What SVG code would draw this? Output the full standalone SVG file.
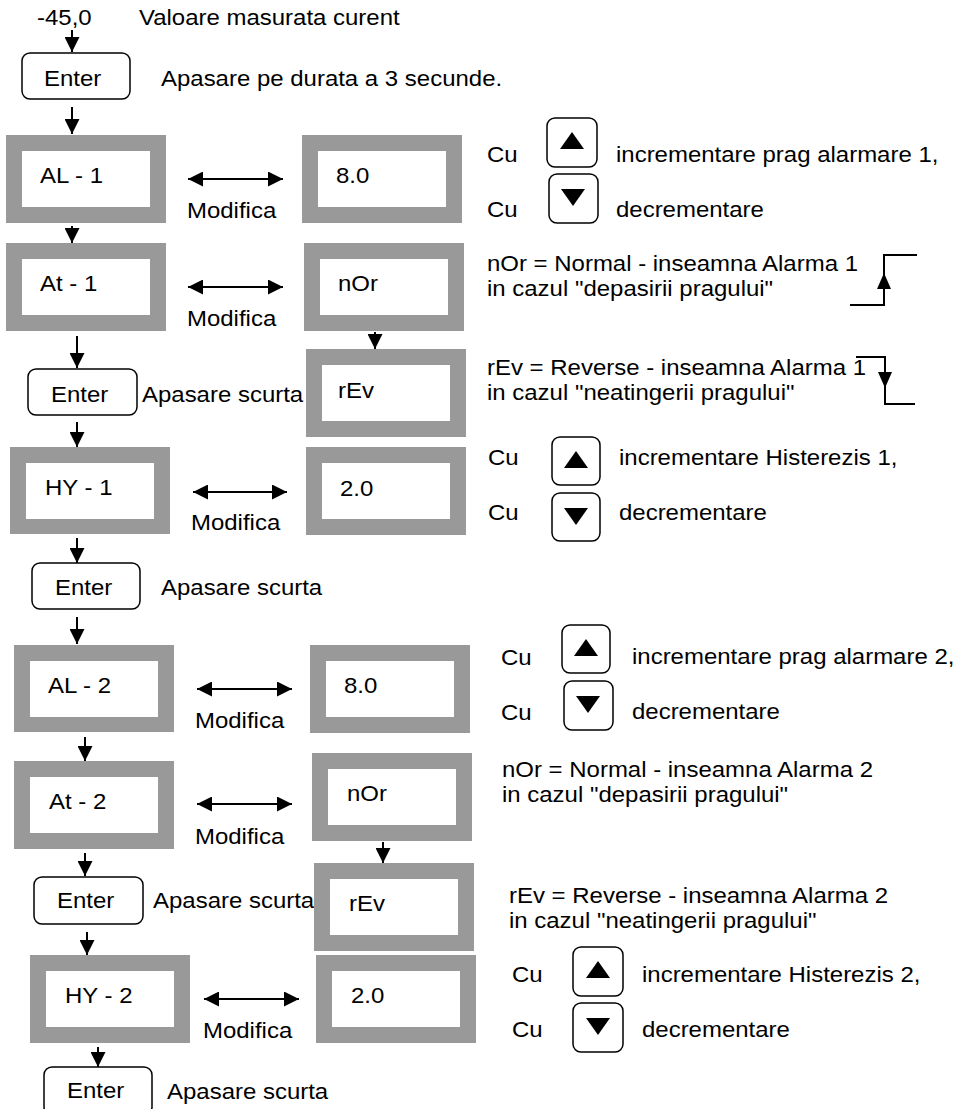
<svg xmlns="http://www.w3.org/2000/svg" width="965" height="1109" viewBox="0 0 965 1109">
<defs>
<style>
text { font-family: "Liberation Sans", Arial, sans-serif; font-size: 22px; fill: #000; transform: scaleX(1.09); transform-box: fill-box; transform-origin: 0 0; }
.disp { fill: #999999; }
.win { fill: #ffffff; }
.key { fill: #ffffff; stroke: #000; stroke-width: 1.5; }
.conn line { stroke: #000; stroke-width: 2; fill: none; }
.one { marker-end: url(#ah); }
.two { marker-start: url(#ah); marker-end: url(#ah); }
.sym { stroke: #000; stroke-width: 2; fill: none; }
.tri { fill: #000; }
</style>
<marker id="ah" markerUnits="userSpaceOnUse" markerWidth="15" markerHeight="15" refX="15" refY="7.5" orient="auto-start-reverse" viewBox="0 0 15 15"><path d="M0,0 L15,7.5 L0,15 z" fill="#000"/></marker>
</defs>
<rect width="965" height="1109" fill="#ffffff"/>

<g id="start">
<text x="37" y="25">-45,0</text>
<text x="139" y="25">Valoare masurata curent</text>
</g>

<g id="enter-1">
<rect class="key" x="22" y="53" width="108" height="46" rx="8"/>
<text x="44" y="86">Enter</text>
<text x="161" y="86">Apasare pe durata a 3 secunde.</text>
</g>

<g id="al1">
<rect class="disp" x="6" y="135" width="160" height="88"/>
<rect class="win" x="22" y="151" width="128" height="56"/>
<text x="40" y="183">AL - 1</text>
<text x="187" y="218">Modifica</text>
</g>
<g id="al1-val">
<rect class="disp" x="302" y="135" width="160" height="88"/>
<rect class="win" x="318" y="151" width="128" height="56"/>
<text x="336" y="183">8.0</text>
</g>
<g id="al1-keys">
<text x="487" y="162">Cu</text>
<rect class="key" x="547" y="118" width="50" height="49" rx="8"/>
<polygon class="tri" points="572,132 584,149 560,149"/>
<text x="616" y="162">incrementare prag alarmare 1,</text>
<text x="487" y="217">Cu</text>
<rect class="key" x="549" y="174" width="49" height="49" rx="8"/>
<polygon class="tri" points="561,189 585,189 573,206"/>
<text x="616" y="217">decrementare</text>
</g>

<g id="at1">
<rect class="disp" x="6" y="243" width="160" height="88"/>
<rect class="win" x="22" y="259" width="128" height="56"/>
<text x="40" y="291">At - 1</text>
<text x="187" y="326">Modifica</text>
</g>
<g id="at1-nor">
<rect class="disp" x="304" y="243" width="160" height="88"/>
<rect class="win" x="320" y="259" width="128" height="56"/>
<text x="338" y="291">nOr</text>
</g>
<g id="at1-nor-note">
<text x="487" y="271">nOr = Normal - inseamna Alarma 1</text>
<text x="487" y="296">in cazul "depasirii pragului"</text>
<polyline class="sym" points="850,305 884,305 884,255 917,255"/>
<polygon class="tri" points="884,273 891,289 877,289"/>
</g>

<g id="enter-2">
<rect class="key" x="28" y="369" width="109" height="46" rx="8"/>
<text x="51" y="402">Enter</text>
<text x="142" y="402">Apasare scurta</text>
</g>
<g id="at1-rev">
<rect class="disp" x="306" y="349" width="160" height="88"/>
<rect class="win" x="322" y="365" width="128" height="56"/>
<text x="338" y="398">rEv</text>
</g>
<g id="at1-rev-note">
<text x="487" y="375">rEv = Reverse - inseamna Alarma 1</text>
<text x="487" y="400">in cazul "neatingerii pragului"</text>
<polyline class="sym" points="856,357 885,357 885,404 915,404"/>
<polygon class="tri" points="878,372 892,372 885,388"/>
</g>

<g id="hy1">
<rect class="disp" x="10" y="447" width="160" height="87"/>
<rect class="win" x="26" y="463" width="128" height="56"/>
<text x="45" y="495">HY - 1</text>
<text x="191" y="530">Modifica</text>
</g>
<g id="hy1-val">
<rect class="disp" x="306" y="447" width="160" height="88"/>
<rect class="win" x="322" y="463" width="128" height="56"/>
<text x="340" y="496">2.0</text>
</g>
<g id="hy1-keys">
<text x="488" y="465">Cu</text>
<rect class="key" x="552" y="437" width="48" height="48" rx="8"/>
<polygon class="tri" points="576,451 588,468 564,468"/>
<text x="619" y="465">incrementare Histerezis 1,</text>
<text x="488" y="520">Cu</text>
<rect class="key" x="552" y="493" width="48" height="48" rx="8"/>
<polygon class="tri" points="564,508 588,508 576,525"/>
<text x="619" y="520">decrementare</text>
</g>

<g id="enter-3">
<rect class="key" x="32" y="563" width="108" height="46" rx="8"/>
<text x="55" y="595">Enter</text>
<text x="161" y="595">Apasare scurta</text>
</g>

<g id="al2">
<rect class="disp" x="14" y="645" width="160" height="87"/>
<rect class="win" x="30" y="661" width="128" height="56"/>
<text x="48" y="693">AL - 2</text>
<text x="195" y="728">Modifica</text>
</g>
<g id="al2-val">
<rect class="disp" x="310" y="645" width="160" height="88"/>
<rect class="win" x="326" y="661" width="128" height="56"/>
<text x="344" y="693">8.0</text>
</g>
<g id="al2-keys">
<text x="501" y="665">Cu</text>
<rect class="key" x="562" y="625" width="48" height="48" rx="8"/>
<polygon class="tri" points="586,639 598,656 574,656"/>
<text x="632" y="664">incrementare prag alarmare 2,</text>
<text x="501" y="720">Cu</text>
<rect class="key" x="564" y="681" width="49" height="49" rx="8"/>
<polygon class="tri" points="576,696 600,696 588,713"/>
<text x="632" y="719">decrementare</text>
</g>

<g id="at2">
<rect class="disp" x="14" y="761" width="160" height="88"/>
<rect class="win" x="30" y="777" width="128" height="56"/>
<text x="49" y="809">At - 2</text>
<text x="195" y="844">Modifica</text>
</g>
<g id="at2-nor">
<rect class="disp" x="312" y="753" width="160" height="88"/>
<rect class="win" x="328" y="769" width="128" height="56"/>
<text x="347" y="801">nOr</text>
</g>
<g id="at2-nor-note">
<text x="502" y="777">nOr = Normal - inseamna Alarma 2</text>
<text x="502" y="802">in cazul "depasirii pragului"</text>
</g>

<g id="enter-4">
<rect class="key" x="34" y="877" width="109" height="47" rx="8"/>
<text x="57" y="908">Enter</text>
<text x="153" y="908">Apasare scurta</text>
</g>
<g id="at2-rev">
<rect class="disp" x="314" y="863" width="160" height="88"/>
<rect class="win" x="330" y="879" width="128" height="56"/>
<text x="349" y="911">rEv</text>
</g>
<g id="at2-rev-note">
<text x="509" y="903">rEv = Reverse - inseamna Alarma 2</text>
<text x="509" y="928">in cazul "neatingerii pragului"</text>
</g>

<g id="hy2">
<rect class="disp" x="30" y="955" width="160" height="88"/>
<rect class="win" x="46" y="971" width="128" height="56"/>
<text x="65" y="1003">HY - 2</text>
<text x="203" y="1038">Modifica</text>
</g>
<g id="hy2-val">
<rect class="disp" x="316" y="955" width="160" height="88"/>
<rect class="win" x="332" y="971" width="128" height="56"/>
<text x="351" y="1003">2.0</text>
</g>
<g id="hy2-keys">
<text x="512" y="982">Cu</text>
<rect class="key" x="573" y="947" width="50" height="49" rx="8"/>
<polygon class="tri" points="598,961 610,978 586,978"/>
<text x="642" y="982">incrementare Histerezis 2,</text>
<text x="512" y="1037">Cu</text>
<rect class="key" x="573" y="1003" width="50" height="49" rx="8"/>
<polygon class="tri" points="586,1018 610,1018 598,1035"/>
<text x="642" y="1037">decrementare</text>
</g>

<g id="enter-5">
<rect class="key" x="44" y="1067" width="108" height="48" rx="8"/>
<text x="67" y="1098">Enter</text>
<text x="167" y="1099">Apasare scurta</text>
</g>

<g id="connectors" class="conn">
<line class="one" x1="72" y1="30" x2="72" y2="52"/>
<line class="one" x1="72" y1="107" x2="72" y2="134"/>
<line class="two" x1="188" y1="179" x2="283" y2="179"/>
<line class="one" x1="72" y1="226" x2="72" y2="243"/>
<line class="two" x1="188" y1="287" x2="283" y2="287"/>
<line class="one" x1="375" y1="332" x2="375" y2="349"/>
<line class="one" x1="77" y1="336" x2="77" y2="368"/>
<line class="one" x1="77" y1="422" x2="77" y2="447"/>
<line class="two" x1="193" y1="492" x2="287" y2="492"/>
<line class="one" x1="77" y1="538" x2="77" y2="563"/>
<line class="one" x1="77" y1="617" x2="77" y2="644"/>
<line class="two" x1="197" y1="689" x2="292" y2="689"/>
<line class="one" x1="85" y1="737" x2="85" y2="761"/>
<line class="two" x1="197" y1="804" x2="292" y2="804"/>
<line class="one" x1="383" y1="842" x2="383" y2="863"/>
<line class="one" x1="85" y1="853" x2="85" y2="876"/>
<line class="one" x1="87" y1="932" x2="87" y2="955"/>
<line class="two" x1="204" y1="999" x2="299" y2="999"/>
<line class="one" x1="98" y1="1047" x2="98" y2="1067"/>
</g>
</svg>
